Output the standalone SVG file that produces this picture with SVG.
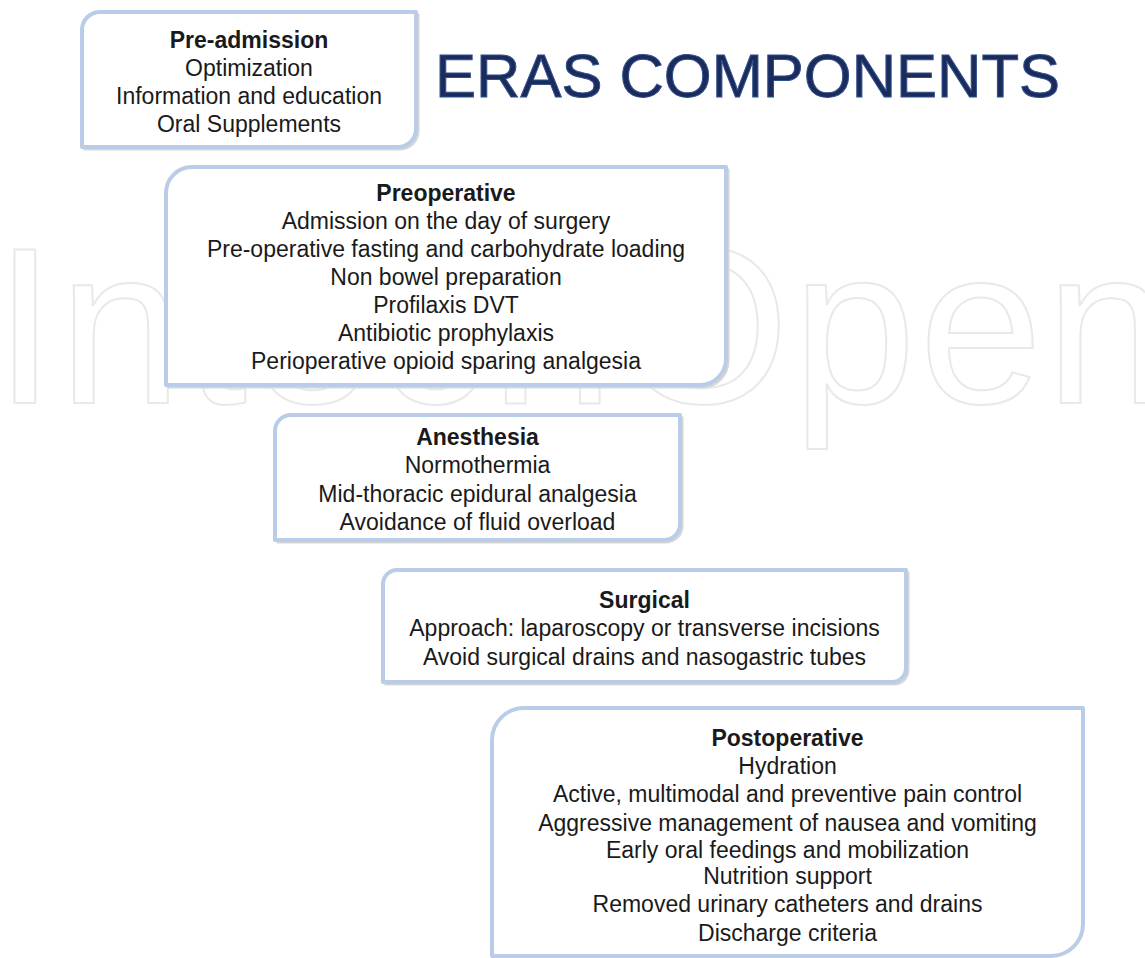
<svg xmlns="http://www.w3.org/2000/svg" width="1145" height="958" viewBox="0 0 1145 958">
<style>
.wm{font-family:"Liberation Sans",Arial,sans-serif;font-size:222px;fill:none;stroke:#e9e9e9;stroke-width:2}
.box{fill:#ffffff;stroke:#b9cde8;stroke-width:4;stroke-linejoin:round}
.shadow{fill:none;stroke:#d6d6d6;stroke-width:3}
.t{font-family:"Liberation Sans",Arial,sans-serif;font-size:23px;fill:#1a1a1a;text-anchor:middle}
.h{font-weight:bold}
.title{font-family:"Liberation Sans",Arial,sans-serif;font-size:61px;fill:#1b2c5c;stroke:#2f4f8f;stroke-width:1}
</style>
<rect width="1145" height="958" fill="#ffffff"/>
<text class="wm" x="-6" y="403" textLength="1175" lengthAdjust="spacing">IntechOpen</text>
<text class="title" x="435" y="97" textLength="625" lengthAdjust="spacingAndGlyphs">ERAS COMPONENTS</text>
<g id="connectors"></g>
<g id="pre-admission">
<path class="shadow" d="M102,15 H418 V131 A18 18 0 0 1 400,149 H85 V32"/>
<path class="box" d="M100,12 H416 V129 A18 18 0 0 1 398,147 H82 V30 A18 18 0 0 1 100,12 Z"/>
<text class="t h" x="249" y="48">Pre-admission</text>
<text class="t" x="249" y="76">Optimization</text>
<text class="t" x="249" y="104">Information and education</text>
<text class="t" x="249" y="132">Oral Supplements</text>
</g>
<g id="preoperative">
<path class="shadow" d="M194,170 H728 V361 A26 26 0 0 1 702,387 H169 V195"/>
<path class="box" d="M192,167 H726 V359 A26 26 0 0 1 700,385 H166 V193 A26 26 0 0 1 192,167 Z"/>
<text class="t h" x="446" y="201">Preoperative</text>
<text class="t" x="446" y="229">Admission on the day of surgery</text>
<text class="t" x="446" y="257">Pre-operative fasting and carbohydrate loading</text>
<text class="t" x="446" y="285">Non bowel preparation</text>
<text class="t" x="446" y="313">Profilaxis DVT</text>
<text class="t" x="446" y="341">Antibiotic prophylaxis</text>
<text class="t" x="446" y="369">Perioperative opioid sparing analgesia</text>
</g>
<g id="anesthesia">
<path class="shadow" d="M293,418 H682 V526 A16 16 0 0 1 666,542 H278 V433"/>
<path class="box" d="M291,415 H680 V524 A16 16 0 0 1 664,540 H275 V431 A16 16 0 0 1 291,415 Z"/>
<text class="t h" x="477.5" y="445">Anesthesia</text>
<text class="t" x="477.5" y="473">Normothermia</text>
<text class="t" x="477.5" y="502">Mid-thoracic epidural analgesia</text>
<text class="t" x="477.5" y="530">Avoidance of fluid overload</text>
</g>
<g id="surgical">
<path class="shadow" d="M399,573 H908 V670 A14 14 0 0 1 894,684 H386 V587"/>
<path class="box" d="M397,570 H906 V668 A14 14 0 0 1 892,682 H383 V584 A14 14 0 0 1 397,570 Z"/>
<text class="t h" x="644.5" y="608">Surgical</text>
<text class="t" x="644.5" y="636">Approach: laparoscopy or transverse incisions</text>
<text class="t" x="644.5" y="665">Avoid surgical drains and nasogastric tubes</text>
</g>
<g id="postoperative">
<path class="box" d="M524,708 H1083 V924 A32 32 0 0 1 1051,956 H492 V740 A32 32 0 0 1 524,708 Z"/>
<text class="t h" x="787.5" y="746">Postoperative</text>
<text class="t" x="787.5" y="774">Hydration</text>
<text class="t" x="787.5" y="802">Active, multimodal and preventive pain control</text>
<text class="t" x="787.5" y="831">Aggressive management of nausea and vomiting</text>
<text class="t" x="787.5" y="858">Early oral feedings and mobilization</text>
<text class="t" x="787.5" y="884">Nutrition support</text>
<text class="t" x="787.5" y="912">Removed urinary catheters and drains</text>
<text class="t" x="787.5" y="941">Discharge criteria</text>
</g>
</svg>
